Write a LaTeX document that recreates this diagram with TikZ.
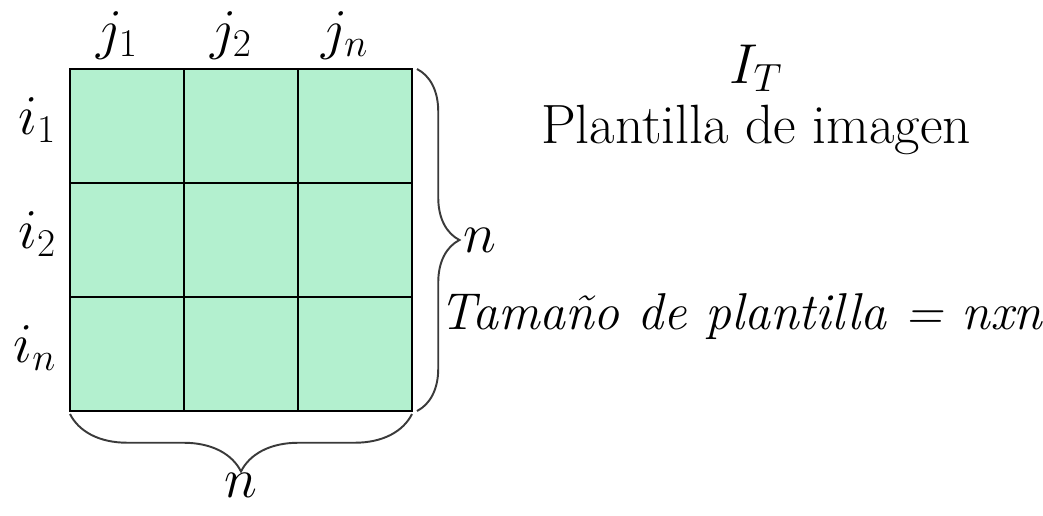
\documentclass[tikz,border=0pt]{standalone}
\usepackage{fix-cm}
\usetikzlibrary{positioning,decorations.pathreplacing}
\definecolor{cellgreen}{HTML}{B3F0CF}
\definecolor{bracegray}{HTML}{3A3A3A}

\begin{document}
\begin{tikzpicture}[x=0.02cm,y=-0.02cm,
  cell/.style={draw=black,line width=0.9pt,fill=cellgreen,minimum size=2.28cm,inner sep=0pt,outer sep=0pt},
  lbl/.style={font=\fontsize{32}{36}\selectfont,inner sep=2pt},
  txt/.style={font=\fontsize{#1}{36}\selectfont,inner sep=0pt},
  brc/.style={draw=bracegray,line width=1.1pt,decorate,decoration={brace,amplitude=#1}}]
\useasboundingbox (0,0) rectangle (1043,515);
% template cells
\foreach \r in {1,2,3}
  \foreach \c in {1,2,3}
    \node[cell] (c\r\c) at ({13+114*\c},{12+114*\r}) {};
% column and row indices
\node[lbl,above=0.12cm of c11,xshift=-0.2cm] (j1) {$j_1$};
\node[lbl,above=0.12cm of c12,xshift=-0.2cm] (j2) {$j_2$};
\node[lbl,above=0.12cm of c13,xshift=-0.2cm] (jn) {$j_n$};
\node[lbl,left=0.2cm of c11,yshift=0.12cm] (i1) {$i_1$};
\node[lbl,left=0.2cm of c21,yshift=0.12cm] (i2) {$i_2$};
\node[lbl,left=0.2cm of c31,yshift=0.12cm] (in) {$i_n$};
% size braces
\draw[brc=0.85cm] ([xshift=0.1cm]c13.north east) -- ([xshift=0.1cm]c33.south east)
  node[lbl,midway,right=0.85cm] (nr) {$n$};
\draw[brc=1.15cm] ([yshift=-0.06cm]c33.south east) -- ([yshift=-0.06cm]c31.south west)
  node[lbl,midway,below=1.1cm] (nb) {$n$};
% captions
\node[lbl,inner sep=0pt] (it) at (756,68) {$I_T$};
\node[txt=31.5] (title) at (756,130) {Plantilla de imagen};
\node[txt=29.5] (size) at (741,317) {\itshape Tamaño de plantilla = nxn};
\end{tikzpicture}
\end{document}
